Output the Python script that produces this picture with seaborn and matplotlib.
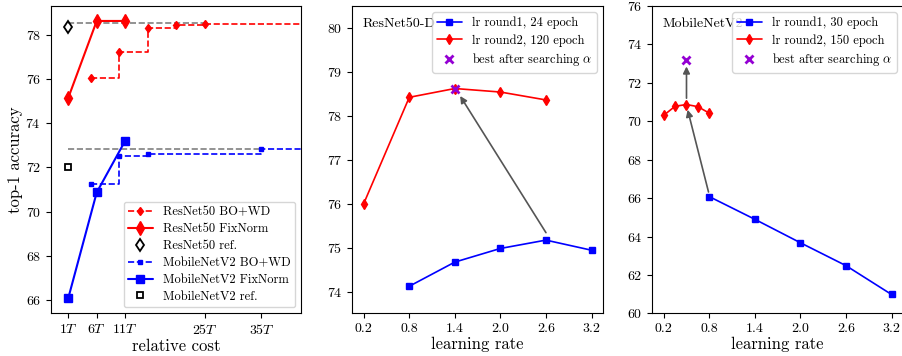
import numpy as np
import pandas as pd
import seaborn as sns
import matplotlib.pyplot as plt

# -------------------------------------------------------------------
# data
# -------------------------------------------------------------------
# panel 1: accuracy vs relative cost
cost_ticks = [1, 6, 11, 25, 35]
cost_labels = [r"$1T$", r"$6T$", r"$11T$", r"$25T$", r"$35T$"]

r50_fix_cost = [1, 6, 11]
r50_fix_acc = [75.15, 78.62, 78.62]
r50_bo_cost = [5, 10, 15, 20, 25, 45]          # last point only carries the line to the edge
r50_bo_acc = [76.05, 77.2, 78.3, 78.45, 78.5, 78.5]
r50_ref_cost = [1]
r50_ref_acc = [78.35]
r50_best_cost = [1, 25]
r50_best_acc = [78.52, 78.52]

mb_fix_cost = [1, 6, 11]
mb_fix_acc = [66.1, 70.87, 73.2]
mb_bo_cost = [5, 10, 15, 35, 45]
mb_bo_acc = [71.25, 72.5, 72.6, 72.83, 72.83]
mb_ref_cost = [1]
mb_ref_acc = [72.0]
mb_best_cost = [1, 35]
mb_best_acc = [72.83, 72.83]

# panel 2: ResNet50-D learning rate search
lr_ticks = [0.2, 0.8, 1.4, 2.0, 2.6, 3.2]
r50_lr1 = [0.8, 1.4, 2.0, 2.6, 3.2]
r50_acc1 = [74.12, 74.67, 74.98, 75.17, 74.94]
r50_lr2 = [0.2, 0.8, 1.4, 2.0, 2.6]
r50_acc2 = [76.0, 78.42, 78.62, 78.54, 78.36]
r50_alpha_lr = [1.4]
r50_alpha_acc = [78.62]

# panel 3: MobileNetV2 learning rate search
mb_lr1 = [0.8, 1.4, 2.0, 2.6, 3.2]
mb_acc1 = [66.08, 64.9, 63.68, 62.49, 60.99]
mb_lr2 = [0.2, 0.35, 0.5, 0.65, 0.8]
mb_acc2 = [70.31, 70.78, 70.87, 70.76, 70.42]
mb_alpha_lr = [0.5]
mb_alpha_acc = [73.2]

# -------------------------------------------------------------------
# style
# -------------------------------------------------------------------
sns.set_style("ticks")
plt.rcParams["font.family"] = ["cmr10", "DejaVu Serif"]
plt.rcParams["mathtext.fontset"] = "cm"
plt.rcParams["axes.formatter.use_mathtext"] = True
plt.rcParams["axes.edgecolor"] = "black"
plt.rcParams["xtick.color"] = "black"
plt.rcParams["ytick.color"] = "black"
plt.rcParams["text.color"] = "black"
plt.rcParams["axes.labelcolor"] = "black"
plt.rcParams["xtick.labelsize"] = 10
plt.rcParams["ytick.labelsize"] = 10
plt.rcParams["axes.labelsize"] = 12

RED = "#ff0000"
BLUE = "#0000ff"
PURPLE = "#9400d3"
GRAY = "#808080"

LEG = dict(fontsize=9, labelspacing=0.38, borderpad=0.35)

fig = plt.figure(figsize=(9.02, 3.56), dpi=100)
w, h, b = 0.2778, 0.864, 0.1194
ax1 = fig.add_axes([0.0562, b, w, h])
ax2 = fig.add_axes([0.3906, b, w, h])
ax3 = fig.add_axes([0.7232, b, w, h])

# -------------------------------------------------------------------
# panel 1
# -------------------------------------------------------------------
sns.lineplot(x=r50_best_cost, y=r50_best_acc, color=GRAY, linestyle="--", lw=1.2, ax=ax1)
sns.lineplot(x=mb_best_cost, y=mb_best_acc, color=GRAY, linestyle="--", lw=1.2, ax=ax1)

sns.lineplot(x=r50_bo_cost, y=r50_bo_acc, color=RED, linestyle="--", lw=1.2,
             drawstyle="steps-post", marker="d", markersize=4.5, mec=RED, mew=1,
             markevery=slice(0, -1), label="ResNet50 BO+WD", ax=ax1)
sns.lineplot(x=r50_fix_cost, y=r50_fix_acc, color=RED, lw=1.5,
             marker="d", markersize=7.5, mec=RED, mew=1, label="ResNet50 FixNorm", ax=ax1)
sns.lineplot(x=r50_ref_cost, y=r50_ref_acc, color="black", linestyle="",
             marker="d", markersize=6.5, mfc="none", mec="black", mew=1.3,
             label="ResNet50 ref.", ax=ax1)
sns.lineplot(x=mb_bo_cost, y=mb_bo_acc, color=BLUE, linestyle="--", lw=1.2,
             drawstyle="steps-post", marker="s", markersize=3.5, mec=BLUE, mew=1,
             markevery=slice(0, -1), label="MobileNetV2 BO+WD", ax=ax1)
sns.lineplot(x=mb_fix_cost, y=mb_fix_acc, color=BLUE, lw=1.5,
             marker="s", markersize=6, mec=BLUE, mew=1, label="MobileNetV2 FixNorm", ax=ax1)
sns.lineplot(x=mb_ref_cost, y=mb_ref_acc, color="black", linestyle="",
             marker="s", markersize=5, mfc="none", mec="black", mew=1.3,
             label="MobileNetV2 ref.", ax=ax1)

ax1.set_xlim(-2.1, 42)
ax1.set_ylim(65.4, 79.3)
ax1.set_xticks(cost_ticks)
ax1.set_xticklabels(cost_labels)
ax1.set_yticks(np.arange(66, 79, 2))
ax1.set_xlabel("relative cost", labelpad=1)
ax1.set_ylabel("top-1 accuracy", labelpad=2)
ax1.legend(loc="lower right", **LEG)

# -------------------------------------------------------------------
# panels 2 and 3
# -------------------------------------------------------------------
def lr_panel(ax, name, lr1, acc1, lab1, lr2, acc2, lab2, alr, aacc):
    sns.lineplot(x=lr1, y=acc1, color=BLUE, lw=1.2, marker="s", markersize=5,
                 mec=BLUE, mew=1, label=lab1, ax=ax)
    sns.lineplot(x=lr2, y=acc2, color=RED, lw=1.2, marker="d", markersize=5.5,
                 mec=RED, mew=1, label=lab2, ax=ax)
    sns.lineplot(x=alr, y=aacc, color=PURPLE, linestyle="", marker="x", markersize=6,
                 mec=PURPLE, mew=2, label=r"best after searching $\alpha$", ax=ax)
    ax.text(0.04, 0.94, name, transform=ax.transAxes, ha="left", va="center", fontsize=10)
    ax.set_xticks(lr_ticks)
    ax.set_xticklabels([f"{v:.1f}" for v in lr_ticks])
    ax.set_xlim(0.05, 3.35)
    ax.set_xlabel("learning rate", labelpad=1)
    ax.set_ylabel("")
    ax.legend(loc="upper right", **LEG)

def arrow(ax, start, end):
    ax.annotate("", xy=end, xytext=start,
                arrowprops=dict(arrowstyle="-|>", color="#555555", lw=1.2,
                                mutation_scale=10, shrinkA=0, shrinkB=0))

lr_panel(ax2, "ResNet50-D", r50_lr1, r50_acc1, "lr round1, 24 epoch",
         r50_lr2, r50_acc2, "lr round2, 120 epoch", r50_alpha_lr, r50_alpha_acc)
ax2.set_ylim(73.5, 80.5)
ax2.set_yticks(np.arange(74, 81, 1))
arrow(ax2, (2.6, 75.34), (1.47, 78.45))

lr_panel(ax3, "MobileNetV2", mb_lr1, mb_acc1, "lr round1, 30 epoch",
         mb_lr2, mb_acc2, "lr round2, 150 epoch", mb_alpha_lr, mb_alpha_acc)
ax3.set_ylim(60, 76)
ax3.set_yticks(np.arange(60, 77, 2))
arrow(ax3, (0.79, 66.32), (0.515, 70.6))
arrow(ax3, (0.5, 71.2), (0.5, 72.85))

fig.savefig("out.png", dpi=100)
